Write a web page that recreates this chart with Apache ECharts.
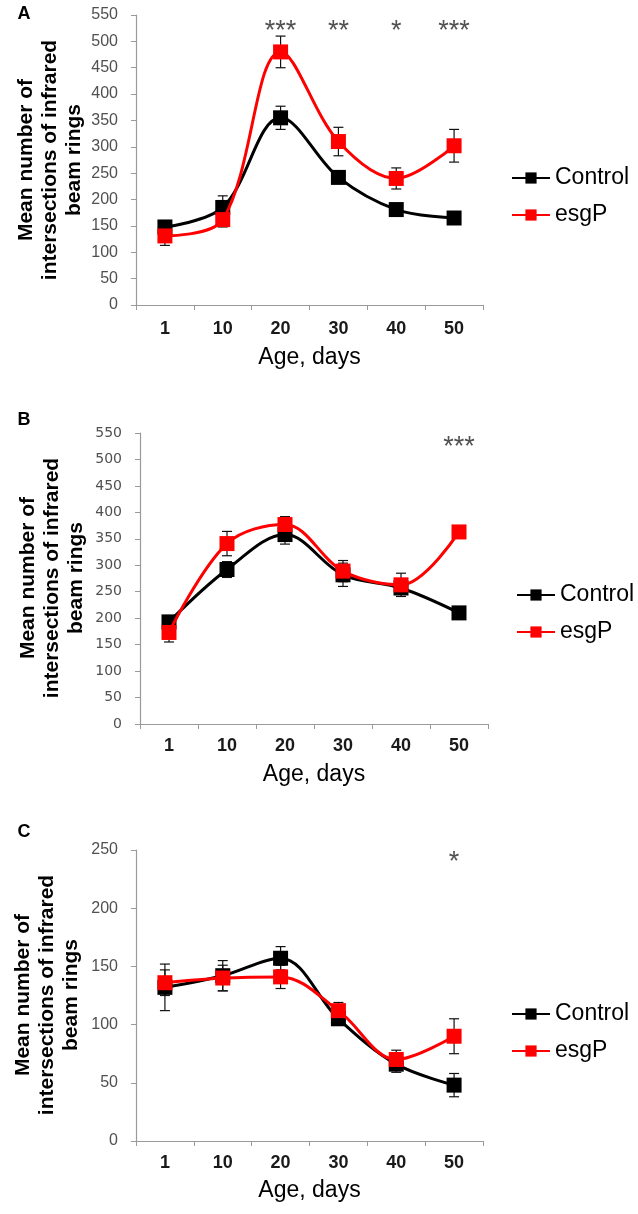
<!DOCTYPE html>
<html>
<head>
<meta charset="utf-8">
<script src="https://cdn.jsdelivr.net/npm/echarts@6/dist/echarts.min.js"></script>
<style>
html,body{margin:0;padding:0;background:#fff;}
#chart{width:638px;height:1214px;}
</style>
</head>
<body>
<div id="chart"></div>
<script>
// ---- data ----
const categories = ['1', '10', '20', '30', '40', '50'];

// Panel A
const controlA = [148, 185, 355, 242, 181, 165];
const esgPA    = [131, 162, 480, 310, 240, 302];
const controlAErr = [8, 22, 22, 10, 8, 8];
const esgPAErr    = [18, 14, 30, 27, 20, 31];
const sigA = ['', '', '***', '**', '*', '***'];
const sigLevelA = 527;

// Panel B
const controlB = [193, 292, 358, 282, 257, 210];
const esgPB    = [173, 341, 377, 289, 263, 363];
const controlBErr = [10, 15, 18, 22, 10, 10];
const esgPBErr    = [18, 23, 15, 20, 22, 12];
const sigB = ['', '', '', '', '', '***'];
const sigLevelB = 531;

// Panel C
const controlC = [132, 142, 157, 105, 66, 48];
const esgPC    = [136, 140, 141, 112, 70, 90];
const controlCErr = [20, 13, 10, 5, 7, 10];
const esgPCErr    = [11, 11, 10, 7, 8, 15];
const sigC = ['', '', '', '', '', '*'];
const sigLevelC = 243;

// y-axis tick settings
const yMaxAB = 550, yMaxC = 250, yStep = 50;

const yTitle = 'Mean number of\nintersections of infrared\nbeam rings';
const xTitle = 'Age, days';

// ---- styling ----
const RED = '#ff0000', BLACK = '#000000', AXIS = '#9a9a9a';
const SANS = "'Liberation Sans', Arial, sans-serif";
const NARROW = "'Liberation Sans Narrow', 'Liberation Sans', Arial, sans-serif";

const grids = [
  {left: 136, top: 15,  width: 347, height: 290},
  {left: 140, top: 433, width: 348, height: 291},
  {left: 136, top: 850, width: 347, height: 291}
];

function errData(vals, errs) {
  return vals.map((v, i) => [i, v - errs[i], v + errs[i]]);
}
function sigData(sig, level) {
  const out = [];
  sig.forEach((s, i) => { if (s) out.push([i, level, s]); });
  return out;
}
function renderErr(params, api) {
  const i = api.value(0);
  const lo = api.coord([i, api.value(1)]);
  const hi = api.coord([i, api.value(2)]);
  const w = 5;
  const st = {stroke: '#111', lineWidth: 1.2};
  return {type: 'group', children: [
    {type: 'line', shape: {x1: lo[0], y1: lo[1], x2: hi[0], y2: hi[1]}, style: st},
    {type: 'line', shape: {x1: lo[0] - w, y1: lo[1], x2: lo[0] + w, y2: lo[1]}, style: st},
    {type: 'line', shape: {x1: hi[0] - w, y1: hi[1], x2: hi[0] + w, y2: hi[1]}, style: st}
  ]};
}

const panels = [
  {c: controlA, e: esgPA, ce: controlAErr, ee: esgPAErr, sig: sigA, lvl: sigLevelA, max: yMaxAB, labFont: {fontFamily: SANS, fontSize: 16, color: '#505050'}, xMargin: 15, nameGap: 41},
  {c: controlB, e: esgPB, ce: controlBErr, ee: esgPBErr, sig: sigB, lvl: sigLevelB, max: yMaxAB, labFont: {fontFamily: "'DejaVu Sans', sans-serif", fontSize: 14, color: '#505050'}, xMargin: 13, nameGap: 39},
  {c: controlC, e: esgPC, ce: controlCErr, ee: esgPCErr, sig: sigC, lvl: sigLevelC, max: yMaxC, labFont: {fontFamily: SANS, fontSize: 16, color: '#505050'}, xMargin: 13, nameGap: 38}
];

const xAxis = [], yAxis = [], series = [];
panels.forEach((p, k) => {
  xAxis.push({
    type: 'category', gridIndex: k, data: categories, boundaryGap: true,
    axisLine: {lineStyle: {color: AXIS, width: 1.2}},
    axisTick: {show: true, length: 5, lineStyle: {color: AXIS}},
    axisLabel: {margin: p.xMargin, fontFamily: NARROW, fontWeight: 'bold', fontSize: 18, color: '#1a1a1a'},
    name: xTitle, nameLocation: 'middle', nameGap: p.nameGap,
    nameTextStyle: {fontFamily: SANS, fontSize: 23, color: '#000'}
  });
  yAxis.push({
    type: 'value', gridIndex: k, min: 0, max: p.max, interval: yStep,
    splitLine: {show: false},
    axisLine: {show: true, lineStyle: {color: AXIS, width: 1.2}},
    axisTick: {show: true, length: 5, lineStyle: {color: AXIS}},
    axisLabel: Object.assign({margin: 18}, p.labFont)
  });
  series.push({
    type: 'custom', name: 'Control SEM', xAxisIndex: k, yAxisIndex: k, z: 1,
    renderItem: renderErr, encode: {x: 0, y: [1, 2]}, data: errData(p.c, p.ce)
  });
  series.push({
    type: 'custom', name: 'esgP SEM', xAxisIndex: k, yAxisIndex: k, z: 1,
    renderItem: renderErr, encode: {x: 0, y: [1, 2]}, data: errData(p.e, p.ee)
  });
  series.push({
    type: 'line', name: 'Control', xAxisIndex: k, yAxisIndex: k, z: 3,
    data: p.c, smooth: 0.35, symbol: 'rect', symbolSize: 15,
    lineStyle: {color: BLACK, width: 3}, itemStyle: {color: BLACK}
  });
  series.push({
    type: 'line', name: 'esgP', xAxisIndex: k, yAxisIndex: k, z: 4,
    data: p.e, smooth: 0.35, symbol: 'rect', symbolSize: 15,
    lineStyle: {color: RED, width: 3}, itemStyle: {color: RED}
  });
  series.push({
    type: 'scatter', name: 'sig', xAxisIndex: k, yAxisIndex: k, z: 5,
    symbolSize: 0, data: sigData(p.sig, p.lvl), encode: {x: 0, y: 1},
    label: {show: true, position: 'inside', offset: [0, 4], formatter: q => q.value[2],
      fontFamily: SANS, fontSize: 27, color: '#262626'}
  });
});

const legendBase = {
  orient: 'vertical', data: ['Control', 'esgP'], itemWidth: 38, itemHeight: 14, itemGap: 13,
  textStyle: {fontFamily: SANS, fontSize: 23, color: '#000', lineHeight: 24},
  selectedMode: false
};
const legend = [
  Object.assign({left: 506, top: 161}, legendBase),
  Object.assign({left: 511, top: 578}, legendBase),
  Object.assign({left: 506, top: 997}, legendBase)
];

const titleFont = "bold 21px 'Liberation Sans', Arial, sans-serif";
function yTitleEl(x, y) {
  return {type: 'text', x: x, y: y, rotation: Math.PI / 2,
    style: {text: yTitle, font: titleFont, fill: '#000', align: 'center', verticalAlign: 'middle', lineHeight: 24}};
}
function letterEl(t, x, y) {
  return {type: 'text', x: x, y: y,
    style: {text: t, font: "bold 18px 'Liberation Sans', Arial, sans-serif", fill: '#000', align: 'center', verticalAlign: 'middle'}};
}

const chart = echarts.init(document.getElementById('chart'), null, {renderer: 'canvas'});
chart.setOption({
  animation: false,
  backgroundColor: '#fff',
  grid: grids,
  xAxis: xAxis,
  yAxis: yAxis,
  legend: legend,
  series: series,
  graphic: [
    yTitleEl(50, 160), yTitleEl(52, 578), yTitleEl(47, 995),
    letterEl('A', 24, 14), letterEl('B', 24, 420), letterEl('C', 24, 832)
  ]
});
</script>
</body>
</html>
